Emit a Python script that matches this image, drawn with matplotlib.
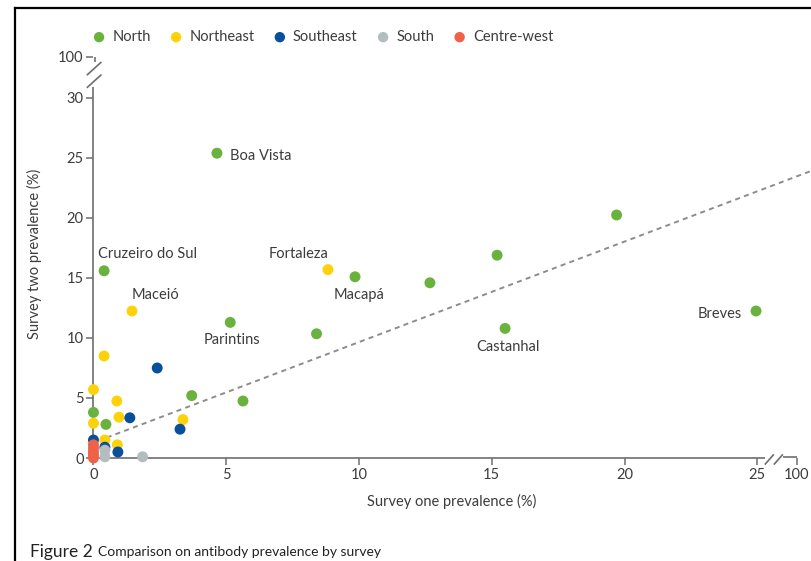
import numpy as np
import matplotlib.pyplot as plt
from matplotlib.lines import Line2D

plt.rcParams['font.family'] = ['Lato', 'DejaVu Sans']

# Survey one / survey two antibody prevalence (%) by city, grouped by region
north_x = [4.65, 19.7, 15.2, 9.85, 12.67, 24.95, 15.5, 8.4, 5.15, 0.4, 3.7, 5.63, 0.0, 0.47]
north_y = [25.4, 20.25, 16.9, 15.1, 14.6, 12.25, 10.8, 10.35, 11.3, 15.6, 5.2, 4.75, 3.8, 2.8]
northeast_x = [8.83, 1.45, 0.4, 0.0, 0.88, 0.96, 0.0, 3.37, 0.43, 0.9]
northeast_y = [15.7, 12.25, 8.5, 5.7, 4.75, 3.4, 2.9, 3.2, 1.5, 1.1]
southeast_x = [2.4, 1.37, 3.26, 0.0, 0.43, 0.92]
southeast_y = [7.5, 3.35, 2.4, 1.5, 0.9, 0.5]
south_x = [0.43, 0.43, 1.85]
south_y = [0.1, 0.65, 0.1]
centrewest_x = [0.0, 0.0, 0.0, 0.0, 0.0]
centrewest_y = [0.0, 0.25, 0.5, 0.8, 1.1]

regions = ['North', 'Northeast', 'Southeast', 'South', 'Centre-west']
region_x = [north_x, northeast_x, southeast_x, south_x, centrewest_x]
region_y = [north_y, northeast_y, southeast_y, south_y, centrewest_y]
colors = ['#6ab23e', '#fdd20a', '#0a4f9c', '#b3bcbf', '#ef6248']

# labelled cities: (name, x, y, offset in points, ha)
labels = [
    ('Boa Vista', 4.65, 25.4, (9.5, -2), 'left'),
    ('Cruzeiro do Sul', 0.4, 15.6, (31, 12), 'center'),
    ('Maceió', 1.45, 12.25, (17, 11.5), 'center'),
    ('Fortaleza', 8.83, 15.7, (-21.5, 11.5), 'center'),
    ('Macapá', 9.85, 15.1, (3, -13), 'center'),
    ('Parintins', 5.15, 11.3, (1.5, -12.5), 'center'),
    ('Castanhal', 15.5, 10.8, (2, -13.5), 'center'),
    ('Breves', 24.95, 12.25, (-10.5, -2), 'right'),
]

# dashed trend line
trend_x = [0.5, 27.0]
trend_y = [1.7, 23.9]

# broken axes: 100 is drawn just past the break
x_top, y_top = 26.49, 33.42
xticks = [0, 5, 10, 15, 20, 25]
yticks = [0, 5, 10, 15, 20, 25, 30]

axis_col = '#6e6e6e'
text_col = '#3c3c3c'

fig = plt.figure(figsize=(8.12, 5.61), dpi=100)
ax = fig.add_axes([0.1151, 0.1836, 0.883, 0.7273])
ax.set_xlim(0, 27)
ax.set_ylim(0, 34)
for s in ax.spines.values():
    s.set_visible(False)

ax.plot(trend_x, trend_y, ls=(0, (2.6, 2.2)), color='#8c8c8c', lw=1.4, zorder=1)

for name, xs, ys, c in zip(regions, region_x, region_y, colors):
    ax.scatter(xs, ys, s=62, color=c, edgecolor='none', label=name,
               clip_on=False, zorder=3)

for name, x, y, off, ha in labels:
    ax.annotate(name, (x, y), xytext=off, textcoords='offset points',
                ha=ha, va='center', fontsize=10.5, color=text_col)

# hand-drawn axis lines with break marks
kw = dict(color=axis_col, lw=1.2, clip_on=False, zorder=2, solid_capstyle='butt')
ax.plot([0, 25.28], [0, 0], **kw)
ax.plot([25.28, 25.62], [-0.55, 0.3], **kw)
ax.plot([25.62, 25.96], [-0.55, 0.3], **kw)
ax.plot([25.96, x_top], [0.12, 0.12], **kw)
ax.plot([0, 0], [0, 30.95], **kw)
ax.plot([-0.25, 0.3], [30.85, 31.95], **kw)
ax.plot([-0.25, 0.3], [31.9, 33.0], **kw)
ax.plot([0.04, 0.04], [33.0, y_top], **kw)

ax.set_xticks(xticks + [x_top])
ax.set_xticklabels([str(t) for t in xticks] + ['100'])
ax.set_yticks(yticks + [y_top])
ax.set_yticklabels([str(t) for t in yticks] + ['100'])
ax.tick_params(length=5, width=1.1, color=axis_col, labelcolor=text_col,
               labelsize=10.5, pad=2)

ax.set_xlabel('Survey one prevalence (%)', fontsize=10.5, color=text_col, labelpad=9)
ax.set_ylabel('Survey two prevalence (%)', fontsize=10.5, color=text_col, labelpad=12)

ax.legend(loc='center left', bbox_to_anchor=(0.113, 1 - 37 / 561),
          bbox_transform=fig.transFigure, ncol=5, frameon=False,
          fontsize=10.5, handlelength=1.0, handletextpad=0.4, columnspacing=1.25,
          markerscale=0.95, labelcolor=text_col, borderaxespad=0, borderpad=0)

# page frame and caption
fig.add_artist(Line2D([15 / 812, 15 / 812], [0, 1 - 7.5 / 561], color='black', lw=1.6))
fig.add_artist(Line2D([15 / 812, 1], [1 - 7.5 / 561, 1 - 7.5 / 561], color='black', lw=1.6))
fig.text(30 / 812, 1 - 552 / 561, 'Figure 2', fontsize=12.5, color='#222222', va='center')
fig.text(98 / 812, 1 - 552 / 561, 'Comparison on antibody prevalence by survey',
         fontsize=10, color='#222222', va='center')

fig.savefig('out.png', dpi=100)
